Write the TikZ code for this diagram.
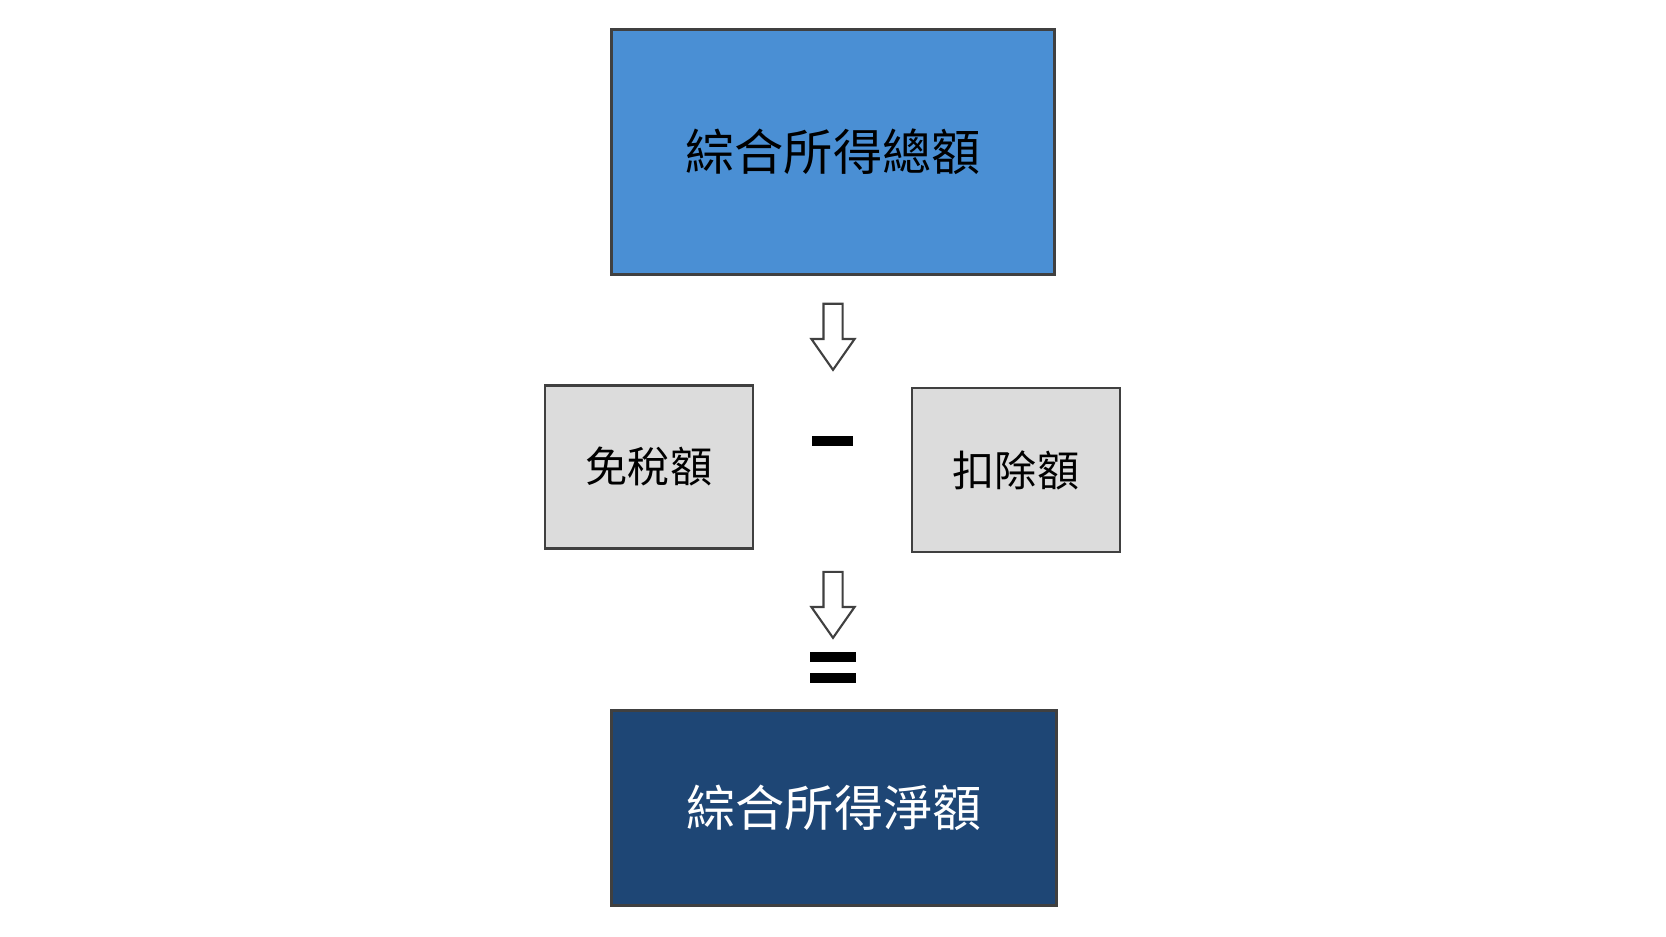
\documentclass[tikz,border=0pt]{standalone}
\usepackage{fontspec}
\newfontfamily\cjk{Noto Sans CJK TC}
\usetikzlibrary{shapes.arrows}
\definecolor{grossblue}{HTML}{4A8FD4}
\definecolor{netblue}{HTML}{1E4675}
\definecolor{boxgray}{HTML}{DCDCDC}
\begin{document}
\begin{tikzpicture}[x=0.01cm,y=-0.01cm,
    box/.style={draw=black!75, line width=0.8pt, inner sep=0pt},
    bigbox/.style={box, font=\cjk\fontsize{14}{16}\selectfont},
    smallbox/.style={box, fill=boxgray, font=\cjk\fontsize{12}{14}\selectfont},
    downarrow/.style={single arrow, draw=black!75, fill=white, line width=0.6pt, shape border rotate=270,
        inner sep=0.085cm, single arrow head extend=0.12cm, single arrow tip angle=70,
        minimum height=0.66cm},
    bar/.style={line width=2.6pt}]
    \useasboundingbox (0,0) rectangle (1666,937);
    % gross income
    \node[bigbox, fill=grossblue, minimum width=4.42cm, minimum height=2.45cm] (gross) at (833,152) {綜合所得總額};
    \node[downarrow] (arrA) at (833,330) {};
    % deductions
    \node[smallbox, minimum width=2.08cm, minimum height=1.63cm] (exempt) at (649,467) {免稅額};
    \node[smallbox, minimum width=2.08cm, minimum height=1.64cm] (deduct) at (1016,470) {扣除額};
    \draw[bar] (812,441) -- (853,441);
    \node[downarrow] (arrB) at (833,598) {};
    \draw[bar] (810,657) -- (856,657);
    \draw[bar] (810,678) -- (856,678);
    % net income
    \node[bigbox, fill=netblue, text=white, minimum width=4.44cm, minimum height=1.95cm] (net) at (834,808) {綜合所得淨額};
\end{tikzpicture}
\end{document}
